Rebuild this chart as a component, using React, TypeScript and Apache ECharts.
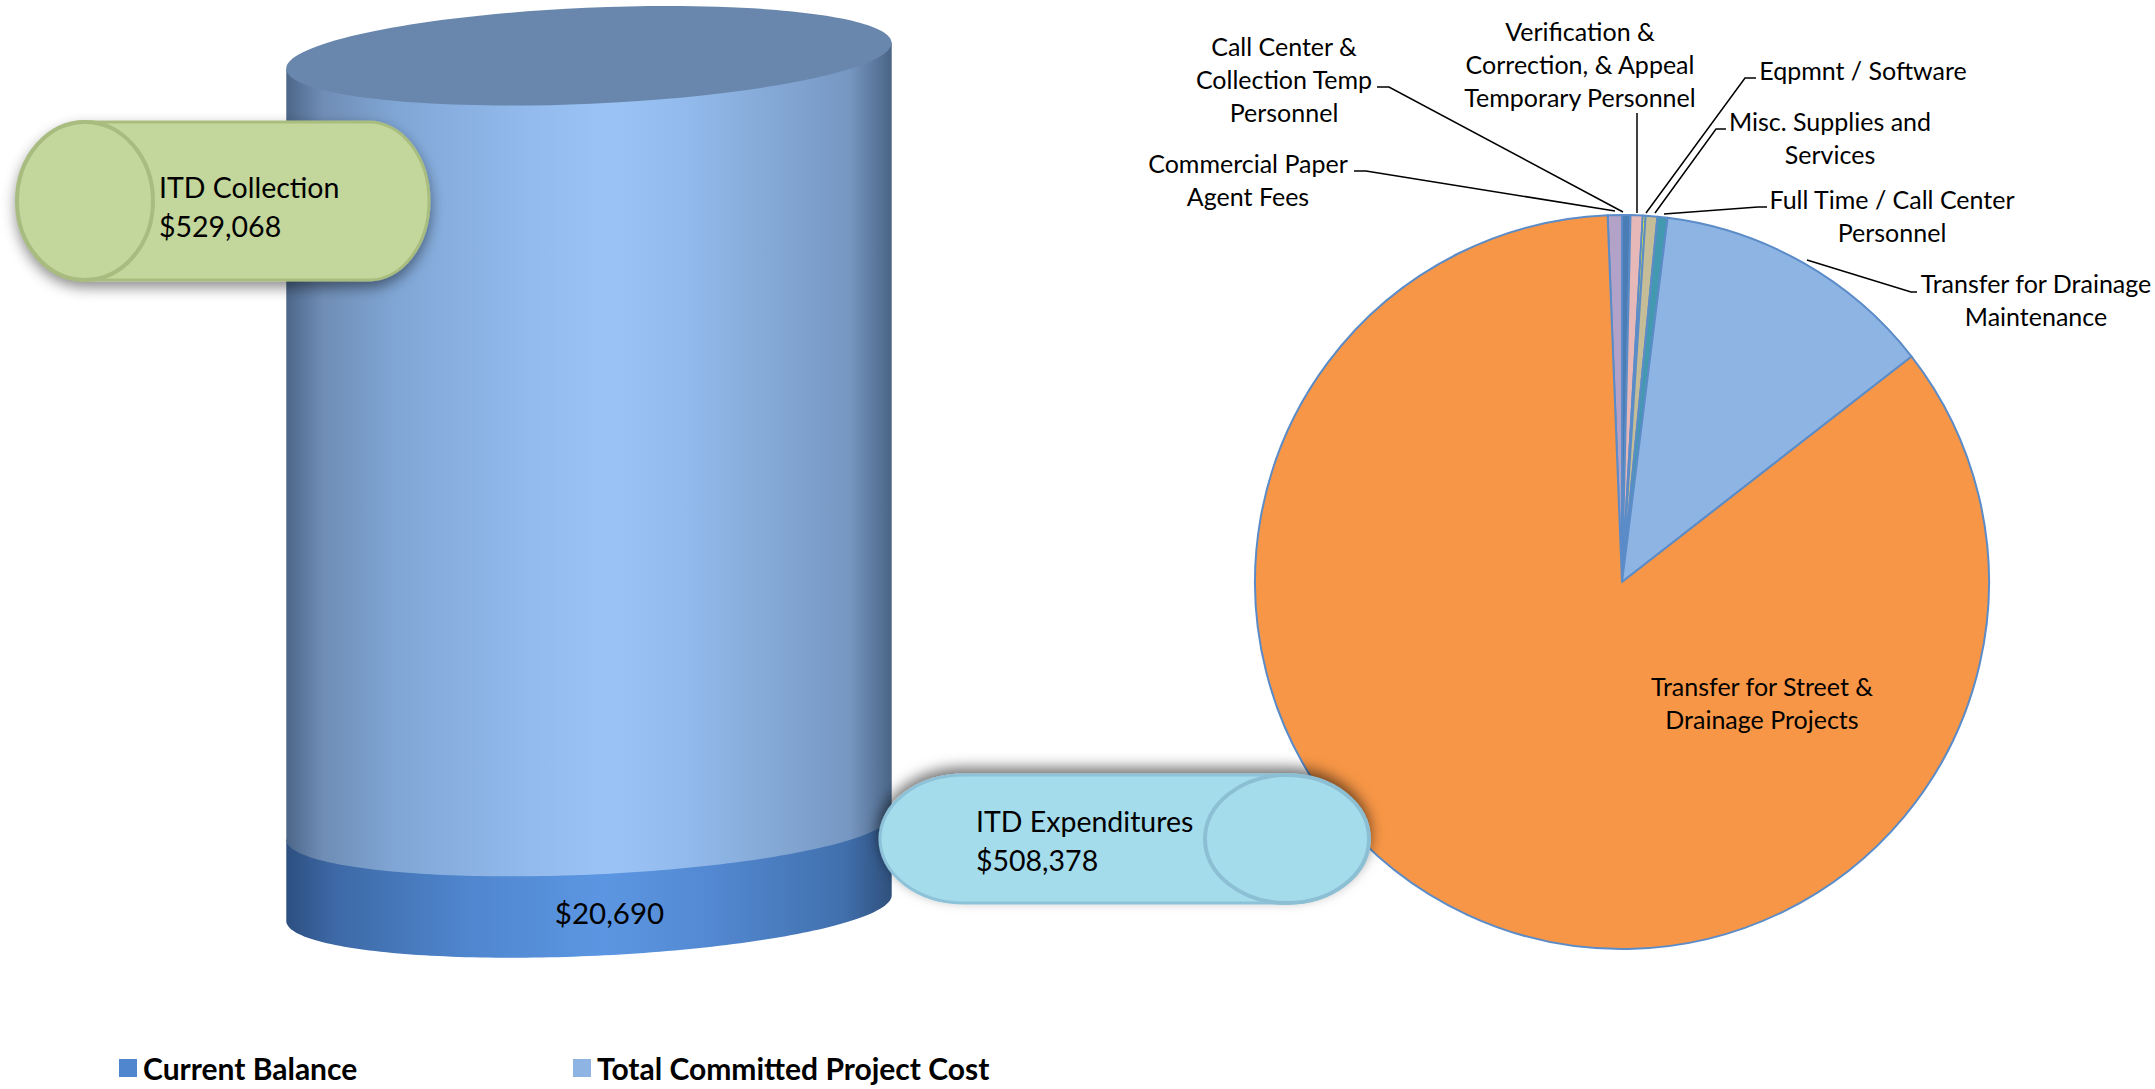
import React, { useEffect, useRef } from "react";
import * as echarts from "echarts";

const FONT = "Lato";

const cylinderCategory = ["ITD"];
const balanceName = "Current Balance";
const committedName = "Total Committed Project Cost";
const balanceValue = 20690;
const committedValue = 508378;
const balanceLabel = "$20,690";
const axisFloor = -33000;

const sliceNames = [
  "Commercial Paper\nAgent Fees",
  "Call Center &\nCollection Temp\nPersonnel",
  "Verification &\nCorrection, & Appeal\nTemporary Personnel",
  "Eqpmnt / Software",
  "Misc. Supplies and\nServices",
  "Full Time / Call Center\nPersonnel",
  "Transfer for Drainage\nMaintenance",
  "Transfer for Street &\nDrainage Projects",
];
const sliceValues = [3177, 1878, 2711, 621, 2627, 2245, 63490, 431629];
const sliceColors = ["#B2A2C7", "#4A7DB5", "#E6B9B8", "#FFFF00", "#C4BD97", "#4399B0", "#8EB4E3", "#F79646"];
const sliceLabelCenters = [
  [1248, 179], [1284, 79], [1580, 64], [1863, 70], [1830, 137], [1892, 215], [2036, 299], [1762, 702],
];
const leaderLines = [
  [[1354, 171], [1366, 171], [1615, 211]],
  [[1377, 87], [1389, 87], [1623, 212]],
  [[1637, 113], [1637, 213]],
  [[1756, 78], [1745, 78], [1646, 213]],
  [[1726, 129], [1716, 129], [1655, 213]],
  [[1767, 207], [1758, 207], [1664, 214]],
  [[1917, 292], [1911, 292], [1807, 260]],
];

const calloutCollection = ["ITD Collection", "$529,068"];
const calloutExpenditures = ["ITD Expenditures", "$508,378"];

echarts.graphic.registerShape(
  "canGreen",
  echarts.graphic.extendPath("M85 122 L369 122 A60 79 0 0 1 369 280 L85 280 A68 79 0 0 1 85 122 Z", {})
);
echarts.graphic.registerShape(
  "canBlue",
  echarts.graphic.extendPath("M964 775 L1287 775 A82 64 0 0 1 1287 903 L964 903 A84 64 0 0 1 964 775 Z", {})
);

const TILT_DEG = -2.5;
const MINOR = 48;

function ellipsePoint(cx: number, cy: number, a: number, t: number) {
  const phi = (TILT_DEG * Math.PI) / 180;
  return [
    cx + a * Math.cos(t) * Math.cos(phi) - MINOR * Math.sin(t) * Math.sin(phi),
    cy + a * Math.cos(t) * Math.sin(phi) + MINOR * Math.sin(t) * Math.cos(phi),
  ];
}

function bodyPoints(cx: number, yTop: number, yBottom: number, a: number) {
  const phi = (TILT_DEG * Math.PI) / 180;
  const tRight = Math.atan2(-MINOR * Math.sin(phi), a * Math.cos(phi));
  const pts: number[][] = [];
  const steps = 120;
  for (let i = 0; i <= steps; i++) {
    pts.push(ellipsePoint(cx, yBottom, a, tRight + (Math.PI * i) / steps));
  }
  pts.push(ellipsePoint(cx, yTop, a, tRight + Math.PI));
  pts.push(ellipsePoint(cx, yTop, a, tRight));
  return pts;
}

const hGradient = (stops: [number, string][]) => ({
  type: "linear", x: 0, y: 0, x2: 1, y2: 0,
  colorStops: stops.map(([offset, color]) => ({ offset, color })),
});

const lowerGradient = hGradient([
  [0, "#2D4F80"], [0.08, "#3D69A6"], [0.3, "#4F86CE"], [0.52, "#5C96E2"], [0.7, "#5389D2"], [0.92, "#4170AD"], [1, "#2F507C"],
]);
const upperGradient = hGradient([
  [0, "#4C6688"], [0.06, "#6F8DB5"], [0.18, "#80A6D5"], [0.4, "#92BAEC"], [0.53, "#9CC3F6"],
  [0.66, "#92BAEC"], [0.8, "#85A9D6"], [0.93, "#7697C2"], [1, "#4A6485"],
]);

function renderLower(_p: any, api: any) {
  const [cx, yTop] = api.coord([0, api.value(2)]);
  const [, yBottom] = api.coord([0, api.value(1)]);
  const a = api.size([1, 0])[0] / 2;
  return {
    type: "group",
    children: [
      { type: "polygon", shape: { points: bodyPoints(cx, yTop, yBottom, a) }, style: { fill: lowerGradient } },
      {
        type: "text", x: cx + 20.5, y: yBottom + 4, z2: 10,
        style: { text: balanceLabel, fill: "#000", font: `29.5px ${FONT}`, align: "center", verticalAlign: "middle" },
      },
    ],
  };
}

function renderUpper(_p: any, api: any) {
  const [cx, yTop] = api.coord([0, api.value(2)]);
  const [, yBottom] = api.coord([0, api.value(1)]);
  const a = api.size([1, 0])[0] / 2;
  return {
    type: "group",
    children: [
      { type: "polygon", shape: { points: bodyPoints(cx, yTop, yBottom, a) }, style: { fill: upperGradient } },
      {
        type: "ellipse",
        shape: { cx, cy: yTop, rx: a, ry: MINOR },
        rotation: (-TILT_DEG * Math.PI) / 180,
        originX: cx,
        originY: yTop,
        style: { fill: "#6987AD" },
      },
    ],
  };
}

function calloutText(x: number, y: number, text: string) {
  return {
    type: "text", x, y, z: 20,
    style: { text, fill: "#000", font: `28.5px ${FONT}`, align: "left", verticalAlign: "middle" },
  };
}

export default function App() {
  const ref = useRef<HTMLDivElement>(null);
  useEffect(() => {
    document.body.style.margin = "0";
    const chart = echarts.init(ref.current!, undefined, { renderer: "svg" });
    const legendText = { fontFamily: FONT, fontWeight: "bold", fontSize: 30, color: "#000", padding: [0, 0, 0, 1] };
    chart.setOption({
      animation: false,
      textStyle: { fontFamily: FONT },
      grid: { left: 286, width: 606, top: 56, height: 852, containLabel: false },
      xAxis: { type: "category", data: cylinderCategory, show: false },
      yAxis: { type: "value", min: axisFloor, max: balanceValue + committedValue, show: false, splitLine: { show: false } },
      legend: [
        {
          data: [balanceName], left: 114, top: 1048, orient: "horizontal", icon: "rect",
          itemWidth: 18, itemHeight: 18, itemGap: 0, selectedMode: false, textStyle: legendText,
        },
        {
          data: [committedName], left: 568, top: 1048, orient: "horizontal", icon: "rect",
          itemWidth: 18, itemHeight: 18, itemGap: 0, selectedMode: false, textStyle: legendText,
        },
      ],
      series: [
        {
          type: "custom", name: balanceName, renderItem: renderLower, clip: false, z: 2,
          itemStyle: { color: "#4F86CE" },
          data: [[0, axisFloor, balanceValue]],
        },
        {
          type: "custom", name: committedName, renderItem: renderUpper, clip: false, z: 3,
          itemStyle: { color: "#8EB4E3" },
          data: [[0, balanceValue, balanceValue + committedValue]],
        },
        {
          type: "pie",
          center: [1622, 582],
          radius: [0, 367],
          startAngle: 92.25,
          clockwise: true,
          avoidLabelOverlap: false,
          minAngle: 0,
          z: 1,
          itemStyle: { borderColor: "#5B8CC8", borderWidth: 2 },
          label: {
            show: true, position: "outside", color: "#000", fontFamily: FONT, fontSize: 25, lineHeight: 33,
            align: "center", formatter: "{b}",
          },
          labelLine: { show: false },
          labelLayout: (p: any) => ({
            x: sliceLabelCenters[p.dataIndex][0],
            y: sliceLabelCenters[p.dataIndex][1],
            align: "center",
            verticalAlign: "middle",
          }),
          emphasis: { disabled: true },
          data: sliceNames.map((name, i) => ({ name, value: sliceValues[i], itemStyle: { color: sliceColors[i] } })),
        },
      ],
      graphic: [
        ...leaderLines.map((points) => ({
          type: "polyline", z: 5, shape: { points }, style: { stroke: "#000", lineWidth: 1.5, fill: "none" },
        })),
        {
          type: "canGreen", z: 15, x: 0, y: 0,
          style: {
            fill: "#C3D69B", stroke: "#A9BE7E", lineWidth: 3,
            shadowBlur: 14, shadowColor: "rgba(0,0,0,0.45)", shadowOffsetY: 6,
          },
        },
        {
          type: "ellipse", z: 16, shape: { cx: 85, cy: 201, rx: 68, ry: 79 },
          style: { fill: "#C3D69B", stroke: "#A9BC7F", lineWidth: 4 },
        },
        calloutText(159, 187, calloutCollection[0]),
        calloutText(159, 226, calloutCollection[1]),
        {
          type: "canBlue", z: 15, x: 0, y: 0,
          style: {
            fill: "#A5DCEB", stroke: "#8DC2D8", lineWidth: 3,
            shadowBlur: 14, shadowColor: "rgba(0,0,0,0.55)", shadowOffsetY: -6,
          },
        },
        {
          type: "ellipse", z: 16, shape: { cx: 1287, cy: 839, rx: 82, ry: 64 },
          style: { fill: "#A5DCEB", stroke: "#8CBFD3", lineWidth: 4 },
        },
        calloutText(976, 821, calloutExpenditures[0]),
        calloutText(976, 860, calloutExpenditures[1]),
      ],
    });
    return () => chart.dispose();
  }, []);
  return <div ref={ref} style={{ width: 2155, height: 1089 }} />;
}
